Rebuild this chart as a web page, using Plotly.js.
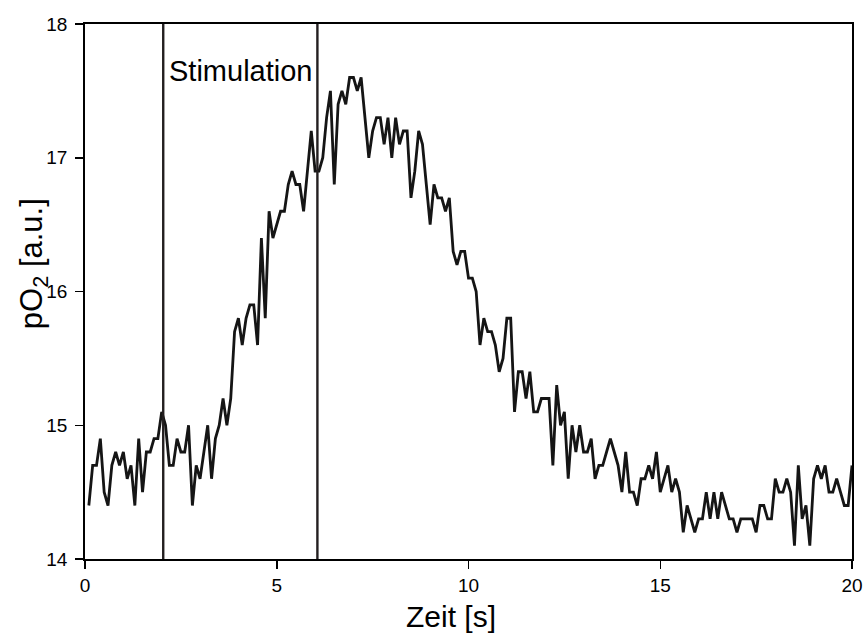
<!DOCTYPE html>
<html>
<head>
<meta charset="utf-8">
<script src="https://cdn.plot.ly/plotly-3.0.1.min.js"></script>
<style>
html,body{margin:0;padding:0;background:#fff;}
#chart{width:865px;height:639px;}
</style>
</head>
<body>
<div id="chart"></div>
<script>
// Time axis: first sample and sampling interval (s)
const startTime = 0.1;
const sampleInterval = 0.1;

// pO2 values [a.u.], one per sample (0.1 s .. 20.0 s)
const po2 = [
  14.4, 14.7, 14.7, 14.9, 14.5, 14.4, 14.7, 14.8, 14.7, 14.8,
  14.6, 14.7, 14.4, 14.9, 14.5, 14.8, 14.8, 14.9, 14.9, 15.1,
  15.0, 14.7, 14.7, 14.9, 14.8, 14.8, 15.0, 14.4, 14.7, 14.6,
  14.8, 15.0, 14.6, 14.9, 15.0, 15.2, 15.0, 15.2, 15.7, 15.8,
  15.6, 15.8, 15.9, 15.9, 15.6, 16.4, 15.8, 16.6, 16.4, 16.5,
  16.6, 16.6, 16.8, 16.9, 16.8, 16.8, 16.6, 16.9, 17.2, 16.9,
  16.9, 17.0, 17.3, 17.5, 16.8, 17.4, 17.5, 17.4, 17.6, 17.6,
  17.5, 17.6, 17.3, 17.0, 17.2, 17.3, 17.3, 17.1, 17.3, 17.0,
  17.3, 17.1, 17.2, 17.2, 16.7, 16.9, 17.2, 17.1, 16.8, 16.5,
  16.8, 16.7, 16.7, 16.6, 16.7, 16.3, 16.2, 16.3, 16.3, 16.1,
  16.1, 16.0, 15.6, 15.8, 15.7, 15.7, 15.6, 15.4, 15.5, 15.8,
  15.8, 15.1, 15.4, 15.4, 15.2, 15.4, 15.1, 15.1, 15.2, 15.2,
  15.2, 14.7, 15.3, 15.0, 15.1, 14.6, 15.0, 14.8, 15.0, 14.8,
  14.8, 14.9, 14.6, 14.7, 14.7, 14.8, 14.9, 14.8, 14.7, 14.5,
  14.8, 14.5, 14.5, 14.4, 14.6, 14.6, 14.7, 14.6, 14.8, 14.5,
  14.6, 14.7, 14.5, 14.6, 14.5, 14.2, 14.4, 14.3, 14.2, 14.3,
  14.3, 14.5, 14.3, 14.5, 14.3, 14.5, 14.4, 14.3, 14.3, 14.2,
  14.3, 14.3, 14.3, 14.3, 14.2, 14.4, 14.4, 14.3, 14.3, 14.6,
  14.5, 14.5, 14.6, 14.5, 14.1, 14.7, 14.3, 14.4, 14.1, 14.6,
  14.7, 14.6, 14.7, 14.5, 14.5, 14.6, 14.5, 14.4, 14.4, 14.7
];

// Stimulation start / end (s)
const stimTimes = [2.04, 6.06];
const stimLabel = "Stimulation";

// Axis ticks and titles
const xTicks = [0, 5, 10, 15, 20];
const yTicks = [14, 15, 16, 17, 18];
const xTitle = "Zeit [s]";
const yTitle = "pO<sub>2</sub> [a.u.]";

const FONT = "Arial, 'Liberation Sans', sans-serif";

const traces = [{
  type: "scatter",
  mode: "lines",
  x0: startTime,
  dx: sampleInterval,
  y: po2,
  line: {color: "#151515", width: 2.8},
  hoverinfo: "skip",
  showlegend: false
}];

const shapes = stimTimes.map(t => ({
  type: "line", xref: "x", yref: "y",
  x0: t, x1: t, y0: yTicks[0], y1: yTicks[yTicks.length - 1],
  line: {color: "#231f20", width: 2.4},
  layer: "above"
}));

const layout = {
  width: 865, height: 639,
  paper_bgcolor: "#ffffff", plot_bgcolor: "#ffffff",
  margin: {l: 85, r: 13, t: 24, b: 80},
  font: {family: FONT, color: "#000"},
  showlegend: false,
  xaxis: {
    range: [0, 20],
    tickvals: xTicks, ticktext: xTicks.map(String),
    ticks: "outside", ticklen: 8, tickwidth: 1.5, tickcolor: "#000",
    showgrid: false, zeroline: false,
    showline: true, linecolor: "#000", linewidth: 1.8, mirror: true,
    tickfont: {family: FONT, size: 19, color: "#000"}
  },
  yaxis: {
    range: [14, 18],
    tickvals: yTicks, ticktext: yTicks.map(String),
    ticks: "outside", ticklen: 8, tickwidth: 1.5, tickcolor: "#000",
    ticklabelstandoff: 4,
    showgrid: false, zeroline: false,
    showline: true, linecolor: "#000", linewidth: 1.8, mirror: true,
    tickfont: {family: FONT, size: 19, color: "#000"}
  },
  shapes: shapes,
  annotations: [
    {
      x: (stimTimes[0] + stimTimes[1]) / 2, y: 17.65,
      xref: "x", yref: "y",
      text: stimLabel, showarrow: false,
      font: {family: FONT, size: 29, color: "#000"},
      xanchor: "center", yanchor: "middle"
    },
    {
      x: 0.477, y: -0.108, xref: "paper", yref: "paper",
      text: xTitle, showarrow: false,
      font: {family: FONT, size: 30, color: "#000"},
      xanchor: "center", yanchor: "middle"
    },
    {
      x: -0.0665, y: 0.553, xref: "paper", yref: "paper",
      text: yTitle, showarrow: false, textangle: -90,
      font: {family: FONT, size: 31, color: "#000"},
      xanchor: "center", yanchor: "middle"
    }
  ]
};

Plotly.newPlot("chart", traces, layout, {displayModeBar: false, staticPlot: true});
</script>
</body>
</html>
